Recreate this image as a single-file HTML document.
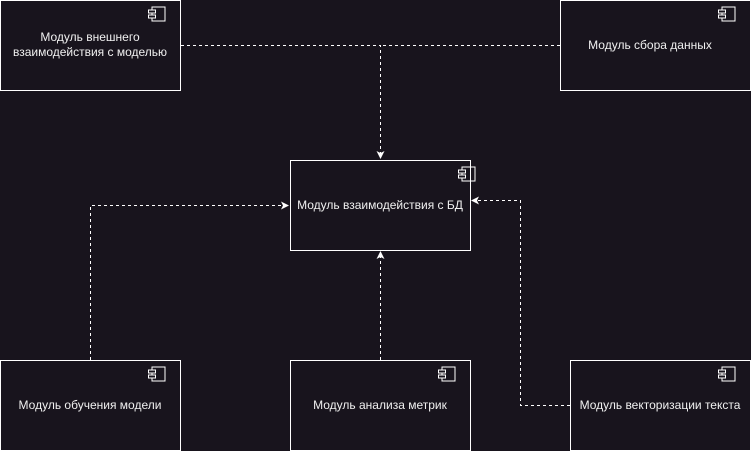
<!DOCTYPE html>
<html><head><meta charset="utf-8"><style>
body{margin:0;background:#18141d;}
svg{display:block}
text{font-family:"Liberation Sans",sans-serif;font-size:12px;fill:#f0f0f0;text-anchor:middle}
</style></head><body>
<svg width="751" height="451" viewBox="0 0 751 451">
<defs>
<marker id="a" markerWidth="8" markerHeight="8" refX="7" refY="4" orient="auto" markerUnits="userSpaceOnUse">
<path d="M0,0 L8,4 L0,8 L2,4 Z" fill="#fff"/></marker>
<g id="ic"><rect x="-20" y="0" width="13" height="14" fill="none" stroke="#fff"/><rect x="-23.5" y="3" width="7" height="3" fill="#18141d" stroke="#fff"/><rect x="-23.5" y="8" width="7" height="3" fill="#18141d" stroke="#fff"/></g>
</defs>
<g fill="none" stroke="#fff" stroke-width="1">
<rect x="0.5" y="0.5" width="180" height="90"/>
<rect x="560.5" y="0.5" width="190" height="90"/>
<rect x="290.5" y="160.5" width="180" height="90"/>
<rect x="0.5" y="360.5" width="180" height="90"/>
<rect x="290.5" y="360.5" width="180" height="90"/>
<rect x="570.5" y="360.5" width="180" height="90"/>
<g stroke-dasharray="3 3">
<path d="M181,45.5 H380.5 V158" marker-end="url(#a)"/>
<path d="M560,45.5 H380.5"/>
<path d="M90.5,360 V205.5 H288" marker-end="url(#a)"/>
<path d="M380.5,360 V252" marker-end="url(#a)"/>
<path d="M570,405.5 H520.5 V200.5 H472" marker-end="url(#a)"/>
</g></g>
<use href="#ic" x="172" y="7"/>
<use href="#ic" x="742" y="7"/>
<use href="#ic" x="482" y="167"/>
<use href="#ic" x="172" y="367"/>
<use href="#ic" x="462" y="367"/>
<use href="#ic" x="742" y="367"/>
<text x="90" y="41">Модуль внешнего</text>
<text x="90" y="56">взаимодействия с моделью</text>
<text x="650" y="49">Модуль сбора данных</text>
<text x="380" y="209">Модуль взаимодействия с БД</text>
<text x="90" y="409">Модуль обучения модели</text>
<text x="380" y="409">Модуль анализа метрик</text>
<text x="660" y="409">Модуль векторизации текста</text>
</svg>
</body></html>
